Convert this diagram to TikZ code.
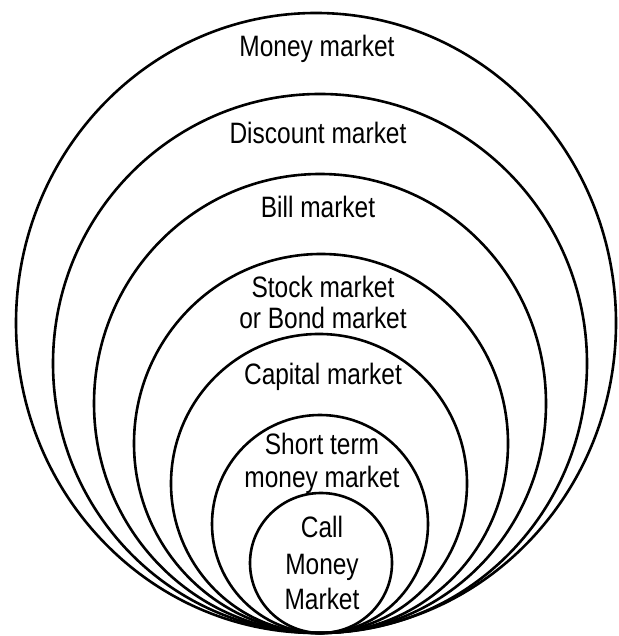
\documentclass[tikz,border=0pt]{standalone}
\usepackage{fontspec}
\setmainfont{Liberation Sans}[FakeStretch=0.83]
\begin{document}
\begin{tikzpicture}[x=1pt,y=1pt,
  ring/.style={draw=black,line width=2.6pt},
  lbl/.style={inner sep=0pt,anchor=base,font=\fontsize{29.5}{35}\selectfont}]
\useasboundingbox (0,0) rectangle (618,636);
% nested markets, all touching at the bottom
\draw[ring] (316,313) ellipse [x radius=300, y radius=310];
\draw[ring] (320,272.5) ellipse [x radius=267, y radius=269.5];
\draw[ring] (320,232.5) ellipse [x radius=226, y radius=229.5];
\draw[ring] (321,192.5) ellipse [x radius=187, y radius=189.5];
\draw[ring] (319,152.5) ellipse [x radius=148, y radius=149.5];
\draw[ring] (320,112) ellipse [x radius=108, y radius=109];
\draw[ring] (321,73) ellipse [x radius=71, y radius=70];
% labels
\node[lbl] (money) at (317,579) {Money market};
\node[lbl] (discount) at (318,492) {Discount market};
\node[lbl] (bill) at (318,418) {Bill market};
\node[lbl] (stockA) at (323,338) {Stock market};
\node[lbl] (stockB) at (323,307) {or Bond market};
\node[lbl] (capital) at (323,251) {Capital market};
\node[lbl] (shortA) at (322,181) {Short term};
\node[lbl] (shortB) at (322,148) {money market};
\node[lbl] (callA) at (322,98) {Call};
\node[lbl] (callB) at (322,61) {Money};
\node[lbl] (callC) at (322,26) {Market};
\end{tikzpicture}
\end{document}
